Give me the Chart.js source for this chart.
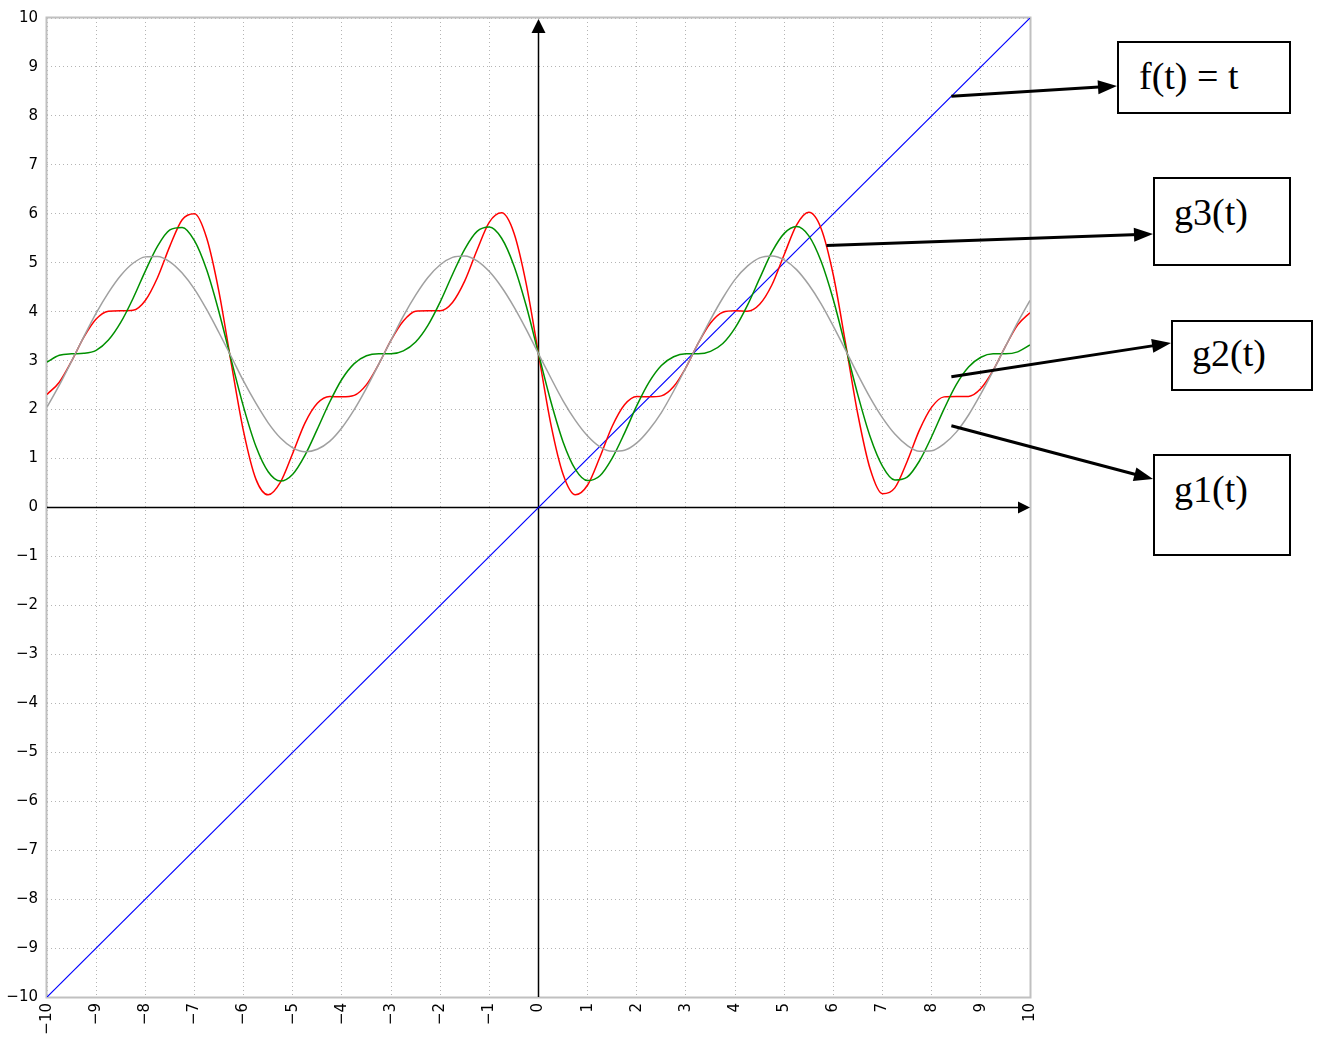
<!DOCTYPE html>
<html>
<head>
<meta charset="utf-8">
<script src="https://cdn.jsdelivr.net/npm/chart.js@4.4.1/dist/chart.umd.min.js"></script>
<style>
    body { margin: 0; background: #fff; }
    #wrap { position: relative; width: 1320px; height: 1039px; }
    .note { position: absolute; border: 2px solid #000; background: #fff; box-sizing: border-box; }
    .note span { position: absolute; left: 19px; top: 14px; font-family: "Liberation Serif", "Times New Roman", serif; font-size: 38px; line-height: 38px; white-space: nowrap; color: #000; }
</style>
</head>
<body>
<div id="wrap">
    <canvas id="chartFourier"></canvas>
    <div class="note" style="left:1117px; top:41px; width:174px; height:73px;"><span style="left:20px">f(t) = t</span></div>
    <div class="note" style="left:1153px; top:177px; width:138px; height:89px;"><span>g3(t)</span></div>
    <div class="note" style="left:1171px; top:320px; width:142px; height:71px;"><span style="top:12px">g2(t)</span></div>
    <div class="note" style="left:1153px; top:454px; width:138px; height:102px;"><span>g1(t)</span></div>
</div>
<script>
// t values (x axis)
var tValues = [-10,-9.75,-9.5,-9.25,-9,-8.75,-8.5,-8.25,-8,-7.75,-7.5,-7.25,-7,-6.75,-6.5,-6.25,-6,-5.75,-5.5,-5.25,-5,-4.75,-4.5,-4.25,-4,-3.75,-3.5,-3.25,-3,-2.75,-2.5,-2.25,-2,-1.75,-1.5,-1.25,-1,-0.75,-0.5,-0.25,
    0,0.25,0.5,0.75,1,1.25,1.5,1.75,2,2.25,2.5,2.75,3,3.25,3.5,3.75,4,4.25,4.5,4.75,5,5.25,5.5,5.75,6,6.25,6.5,6.75,7,7.25,7.5,7.75,8,8.25,8.5,8.75,9,9.25,9.5,9.75,10];

// g1(t) - gray
var g1Values = [2.05,2.50,2.99,3.49,3.97,4.39,4.74,4.99,5.12,5.13,5.02,4.79,4.46,4.04,3.57,3.08,2.58,2.13,1.73,1.42,1.22,1.14,1.19,1.35,1.63,2.00,2.44,2.93,3.42,3.91,4.34,4.70,4.96,5.11,5.14,5.04,4.82,4.50,4.10,3.64,
    3.14,2.65,2.18,1.78,1.46,1.24,1.15,1.17,1.32,1.59,1.94,2.38,2.86,3.36,3.84,4.28,4.66,4.93,5.10,5.14,5.06,4.86,4.55,4.16,3.70,3.21,2.71,2.24,1.83,1.50,1.27,1.15,1.16,1.30,1.54,1.89,2.32,2.79,3.29,3.78,4.23];

// g2(t) - green
var g2Values = [2.97,3.11,3.14,3.15,3.21,3.42,3.78,4.27,4.83,5.34,5.67,5.72,5.45,4.85,3.99,3.01,2.05,1.25,0.73,0.54,0.68,1.07,1.60,2.15,2.62,2.94,3.10,3.14,3.14,3.20,3.38,3.72,4.20,4.76,5.28,5.64,5.73,5.50,4.94,4.12,
    3.14,2.17,1.34,0.78,0.55,0.65,1.01,1.52,2.08,2.56,2.90,3.08,3.14,3.14,3.19,3.35,3.67,4.13,4.68,5.22,5.60,5.74,5.55,5.03,4.24,3.27,2.29,1.44,0.84,0.56,0.62,0.95,1.45,2.01,2.51,2.87,3.07,3.14,3.14,3.18,3.32];

// g3(t) - red
var g3Values = [2.31,2.56,2.99,3.48,3.85,4.01,4.02,4.03,4.23,4.70,5.34,5.88,6.00,5.50,4.40,2.94,1.55,0.58,0.26,0.52,1.11,1.73,2.13,2.27,2.26,2.29,2.51,2.93,3.42,3.81,4.01,4.02,4.02,4.19,4.63,5.26,5.83,6.02,5.61,4.57,
    3.14,1.71,0.68,0.26,0.46,1.03,1.66,2.10,2.27,2.26,2.28,2.47,2.86,3.36,3.77,3.99,4.02,4.01,4.15,4.55,5.17,5.77,6.03,5.70,4.74,3.34,1.89,0.78,0.28,0.40,0.94,1.58,2.05,2.26,2.27,2.27,2.43,2.80,3.29,3.73,3.98];

// f(t) = t - blue
var fT = [-10, 10];
var fValues = [-10, 10];

var axisMin = -10, axisMax = 10, tickStep = 1;

// arrows: start in data coords, end in page pixels (left edge of each box)
var arrows = [
    { t: 8.4,  v: 8.4,  ex: 1117, ey: 86 },
    { t: 5.86, v: 5.35, ex: 1153, ey: 234 },
    { t: 8.4,  v: 2.67, ex: 1171, ey: 343 },
    { t: 8.4,  v: 1.67, ex: 1153, ey: 479 }
];

function toPoints(xs, ys){
    return xs.map(function(x, i){ return { x: x, y: ys[i] }; });
}

function fmt(v){
    return v < 0 ? "\u2212" + Math.abs(v) : String(v);
}

function head(ctx, x1, y1, x2, y2, len, half){
    var a = Math.atan2(y2 - y1, x2 - x1);
    ctx.beginPath();
    ctx.moveTo(x2, y2);
    ctx.lineTo(x2 - len * Math.cos(a) + half * Math.sin(a), y2 - len * Math.sin(a) - half * Math.cos(a));
    ctx.lineTo(x2 - len * Math.cos(a) - half * Math.sin(a), y2 - len * Math.sin(a) + half * Math.cos(a));
    ctx.closePath();
    ctx.fill();
}

/* --------------------------
   FRAME + AXES + ARROWS
--------------------------- */
var decorPlugin = {
    id: "decor",
    beforeDatasetsDraw: function(chart){
        var ctx = chart.ctx, a = chart.chartArea;
        var x0 = chart.scales.x.getPixelForValue(0);
        var y0 = chart.scales.y.getPixelForValue(0);
        ctx.save();
        // frame
        ctx.strokeStyle = "#c0c0c0";
        ctx.lineWidth = 2;
        ctx.strokeRect(a.left - 0.5, a.top - 0.5, a.right - a.left + 1, a.bottom - a.top + 1);
        // axes
        ctx.strokeStyle = "#000";
        ctx.fillStyle = "#000";
        ctx.lineWidth = 1.5;
        ctx.beginPath();
        ctx.moveTo(a.left, y0); ctx.lineTo(a.right - 10, y0);
        ctx.moveTo(x0, a.bottom); ctx.lineTo(x0, a.top + 10);
        ctx.stroke();
        head(ctx, a.left, y0, a.right, y0, 12, 6);
        head(ctx, x0, a.bottom, x0, a.top + 1, 14, 7);
        ctx.restore();
    },
    afterDraw: function(chart){
        var ctx = chart.ctx;
        ctx.save();
        ctx.strokeStyle = "#000";
        ctx.fillStyle = "#000";
        ctx.lineWidth = 3;
        arrows.forEach(function(ar){
            var sx = chart.scales.x.getPixelForValue(ar.t);
            var sy = chart.scales.y.getPixelForValue(ar.v);
            var ang = Math.atan2(ar.ey - sy, ar.ex - sx);
            ctx.beginPath();
            ctx.moveTo(sx, sy);
            ctx.lineTo(ar.ex - 14 * Math.cos(ang), ar.ey - 14 * Math.sin(ang));
            ctx.stroke();
            head(ctx, sx, sy, ar.ex, ar.ey, 19, 7);
        });
        ctx.restore();
    }
};

var tickFont = { family: "DejaVu Sans", size: 15 };

new Chart(document.getElementById("chartFourier"), {
    type: "line",
    data: {
        datasets: [
            { data: toPoints(tValues, g1Values), borderColor: "#a0a0a0" },
            { data: toPoints(tValues, g2Values), borderColor: "#009000" },
            { data: toPoints(tValues, g3Values), borderColor: "#ff0000" },
            { data: toPoints(fT, fValues), borderColor: "#0000ff", borderWidth: 1.2 }
        ]
    },
    options: {
        responsive: true,
        maintainAspectRatio: false,
        animation: false,
        layout: { padding: { top: 13, right: 290, left: 0, bottom: 0 } },
        elements: {
            point: { radius: 0 },
            line: { borderWidth: 1.5, cubicInterpolationMode: "monotone", fill: false }
        },
        plugins: { legend: { display: false }, tooltip: { enabled: false } },
        scales: {
            x: {
                type: "linear", min: axisMin, max: axisMax,
                ticks: { stepSize: tickStep, autoSkip: false, maxRotation: 90, minRotation: 90, padding: 6, color: "#000", font: tickFont, callback: fmt },
                grid: { color: "#b4b4b4", lineWidth: 1, drawTicks: false },
                border: { display: false, dash: [1, 3] },
                afterFit: function(s){ s.height = 42; }
            },
            y: {
                type: "linear", min: axisMin, max: axisMax,
                ticks: { stepSize: tickStep, autoSkip: false, padding: 9, color: "#000", font: tickFont, callback: fmt },
                grid: { color: "#b4b4b4", lineWidth: 1, drawTicks: false },
                border: { display: false, dash: [1, 3] },
                afterFit: function(s){ s.width = 47; }
            }
        }
    },
    plugins: [decorPlugin]
});
</script>
</body>
</html>
